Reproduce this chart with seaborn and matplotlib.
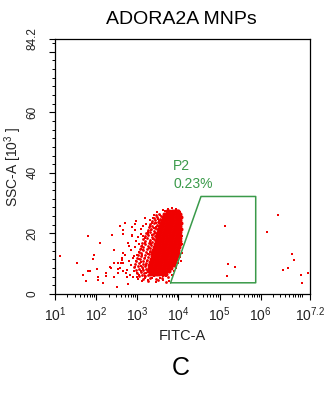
import numpy as np
import matplotlib
matplotlib.use("Agg")
import matplotlib.pyplot as plt
import seaborn as sns
from matplotlib.ticker import FixedLocator, FixedFormatter, NullFormatter

# ---------------- text ----------------
title = "ADORA2A MNPs"
panel_letter = "C"
x_label = "FITC-A"
y_label = r"SSC-A [$\mathregular{10^3}$ ]"
gate_name = "P2"
gate_pct = "0.23%"

# ---------------- axes ----------------
x_tick_exps = [1, 2, 3, 4, 5, 6, 7.2]
x_tick_labels = [r"$\mathregular{10^{1}}$", r"$\mathregular{10^{2}}$", r"$\mathregular{10^{3}}$",
                 r"$\mathregular{10^{4}}$", r"$\mathregular{10^{5}}$", r"$\mathregular{10^{6}}$",
                 r"$\mathregular{10^{7.2}}$"]
y_ticks = [0, 20, 40, 60, 80, 84.2]
y_tick_labels = ["0", "20", "40", "60", "", "84.2"]

# ---------------- gate P2 (log10 FITC-A, SSC-A) ----------------
gate_logx = [3.81, 4.55, 5.88, 5.88, 3.81]
gate_y = [3.7, 32.2, 32.2, 3.7, 3.7]

# ---------------- events: dense core (log10 FITC-A, SSC-A) ----------------
core_logx = [
    3.72, 3.78, 3.84, 3.90, 3.96, 4.00,
    3.66, 3.71, 3.77, 3.82, 3.88, 3.93, 3.99, 4.04,
    3.63, 3.69, 3.74, 3.80, 3.85, 3.91, 3.96, 4.02, 4.06,
    3.60, 3.66, 3.71, 3.77, 3.82, 3.88, 3.93, 3.99, 4.04,
    3.58, 3.63, 3.69, 3.74, 3.80, 3.85, 3.91, 3.96, 4.02, 4.06,
    3.56, 3.61, 3.67, 3.72, 3.78, 3.83, 3.89, 3.94, 4.00, 4.05,
    3.53, 3.58, 3.64, 3.69, 3.75, 3.80, 3.86, 3.91, 3.97, 4.02, 4.06,
    3.51, 3.56, 3.62, 3.67, 3.73, 3.78, 3.84, 3.89, 3.95, 4.00, 4.05,
    3.49, 3.54, 3.60, 3.65, 3.71, 3.76, 3.82, 3.87, 3.93, 3.98, 4.04,
    3.47, 3.52, 3.58, 3.63, 3.69, 3.74, 3.80, 3.85, 3.91, 3.96, 4.02, 4.05,
    3.45, 3.50, 3.56, 3.61, 3.67, 3.72, 3.78, 3.83, 3.89, 3.94, 4.00, 4.04,
    3.43, 3.48, 3.54, 3.59, 3.65, 3.70, 3.76, 3.81, 3.87, 3.92, 3.98, 4.03,
    3.41, 3.46, 3.52, 3.57, 3.63, 3.68, 3.74, 3.79, 3.85, 3.90, 3.96, 4.02,
    3.39, 3.44, 3.50, 3.55, 3.61, 3.66, 3.72, 3.77, 3.83, 3.88, 3.94, 4.00,
    3.37, 3.42, 3.48, 3.53, 3.59, 3.64, 3.70, 3.75, 3.81, 3.86, 3.92, 3.98,
    3.35, 3.40, 3.46, 3.51, 3.57, 3.62, 3.68, 3.73, 3.79, 3.84, 3.90, 3.96, 4.00,
    3.33, 3.38, 3.44, 3.49, 3.55, 3.60, 3.66, 3.71, 3.77, 3.82, 3.88, 3.94,
    3.31, 3.36, 3.42, 3.47, 3.53, 3.58, 3.64, 3.69, 3.75, 3.80, 3.86, 3.92,
    3.29, 3.34, 3.40, 3.45, 3.51, 3.56, 3.62, 3.67, 3.73, 3.78, 3.84, 3.89,
    3.28, 3.33, 3.39, 3.44, 3.50, 3.55, 3.61, 3.66, 3.72, 3.77, 3.83,
    3.27, 3.32, 3.38, 3.43, 3.49, 3.54, 3.60, 3.65, 3.71, 3.76,
    3.30, 3.36, 3.42, 3.48, 3.54, 3.60, 3.66, 3.70,
]
core_y = ([27.5] * 6 + [26.5] * 8 + [25.5] * 9 + [24.5] * 9 + [23.5] * 10 + [22.5] * 10
          + [21.5] * 11 + [20.5] * 11 + [19.5] * 11 + [18.5] * 12 + [17.5] * 12 + [16.5] * 12
          + [15.5] * 12 + [14.5] * 12 + [13.5] * 12 + [12.5] * 13 + [11.5] * 12 + [10.5] * 12
          + [9.5] * 12 + [8.5] * 11 + [7.5] * 10 + [6.5] * 8)

# ---------------- events: medium-density band left of the core ----------------
mid_logx = [3.45, 3.52, 3.58,
            3.40, 3.48, 3.55,
            3.36, 3.44, 3.50, 3.56,
            3.32, 3.40, 3.47, 3.53,
            3.28, 3.37, 3.44, 3.50,
            3.25, 3.33, 3.41, 3.48,
            3.22, 3.30, 3.38, 3.45,
            3.18, 3.27, 3.35, 3.43,
            3.15, 3.24, 3.32, 3.40,
            3.12, 3.20, 3.29, 3.37,
            3.10, 3.18, 3.26, 3.34,
            3.07, 3.15, 3.24, 3.32,
            3.04, 3.13, 3.21, 3.30,
            3.02, 3.10, 3.19, 3.28,
            2.99, 3.08, 3.17, 3.26,
            2.97, 3.06, 3.15, 3.24,
            2.95, 3.04, 3.13, 3.22,
            2.93, 3.02, 3.11, 3.20,
            2.96, 3.05, 3.14, 3.22,
            3.00, 3.08, 3.17,
            3.05, 3.12, 3.20, 3.26,
            3.15, 3.30, 3.45, 3.60, 3.75,
            3.25, 3.50, 3.70]
mid_y = [26.0, 26.4, 25.9,
         25.0, 25.4, 24.9,
         24.0, 24.4, 23.9, 24.3,
         23.0, 23.4, 22.9, 23.3,
         22.0, 22.4, 21.9, 22.3,
         21.0, 21.4, 20.9, 21.3,
         20.0, 20.4, 19.9, 20.3,
         19.0, 19.4, 18.9, 19.3,
         18.0, 18.4, 17.9, 18.3,
         17.0, 17.4, 16.9, 17.3,
         16.0, 16.4, 15.9, 16.3,
         15.0, 15.4, 14.9, 15.3,
         14.0, 14.4, 13.9, 14.3,
         13.0, 13.4, 12.9, 13.3,
         12.0, 12.4, 11.9, 12.3,
         11.0, 11.4, 10.9, 11.3,
         10.0, 10.4, 9.9, 10.3,
         9.0, 9.4, 8.9, 9.3,
         8.0, 8.4, 7.9, 8.3,
         7.0, 7.4, 6.9,
         6.0, 6.4, 5.9, 6.3,
         5.0, 5.4, 4.9, 5.3, 5.6,
         4.2, 4.5, 4.1]

# ---------------- events: halo around the core ----------------
halo_logx = [3.20, 3.15, 3.22, 3.10, 3.18, 3.25, 3.05, 3.28, 3.12, 3.32, 3.20, 3.36, 3.25, 3.40,
             3.30, 3.45, 3.50, 3.38, 3.55, 3.62, 3.00, 2.95, 3.05, 2.92, 3.08, 2.98, 3.15, 3.10,
             3.22, 2.90, 3.02, 3.12, 3.25, 3.35, 3.45, 3.55, 3.62, 3.70, 3.78, 3.85, 3.90, 3.95,
             4.00, 4.07, 4.08, 4.09, 4.08, 4.10, 4.09, 4.08, 4.04, 3.95, 3.85, 3.75, 3.68, 2.85,
             2.80, 2.88, 2.95, 3.02, 2.75, 2.82, 2.70, 2.78, 3.18, 3.30, 3.40, 3.48, 3.22, 3.24,
             3.30, 3.34, 3.38, 3.42, 3.46, 3.52, 3.15, 3.28, 3.08, 3.12, 3.20, 3.26, 3.33, 3.36,
             2.98, 3.05, 3.18, 3.40, 3.50, 3.62, 2.85, 2.90, 2.95, 3.00, 3.05, 2.88, 2.92, 3.00,
             3.10, 2.80, 3.08, 3.14, 2.98]
halo_y = [6.0, 8.2, 9.5, 10.5, 12.0, 13.2, 13.8, 15.2, 16.0, 17.3, 18.4, 19.5, 20.6, 21.8,
          22.6, 23.4, 24.8, 25.0, 26.2, 27.8, 7.0, 9.0, 11.5, 12.5, 15.0, 17.5, 19.0, 21.5,
          23.0, 5.5, 4.8, 4.2, 4.5, 5.2, 4.0, 5.3, 4.6, 5.8, 4.3, 6.2, 7.5, 8.5,
          10.2, 11.0, 13.5, 16.5, 19.0, 21.0, 23.5, 25.5, 27.2, 28.0, 28.3, 28.1, 27.4, 14.5,
          11.0, 19.5, 21.0, 18.8, 8.0, 6.3, 13.0, 17.0, 25.0, 24.5, 26.0, 27.0, 7.0, 11.0,
          14.0, 16.4, 18.0, 20.0, 22.2, 24.0, 14.5, 8.3, 9.3, 12.8, 16.8, 19.8, 21.2, 23.6,
          10.8, 6.2, 5.2, 6.0, 6.3, 6.0, 9.5, 12.0, 15.5, 13.0, 16.5, 22.0, 7.5, 5.5,
          7.5, 15.8, 19.8, 22.5, 24.0]

# ---------------- events: sparse outliers ----------------
out_logx = [1.12, 1.53, 1.81, 1.69, 1.75, 1.81, 1.84, 1.96, 1.93, 2.10, 2.01, 2.05, 2.05,
            2.38, 2.34, 2.17, 2.50, 2.44, 2.58, 2.66, 2.70, 2.74, 2.78, 2.95, 2.86, 2.58,
            2.62, 2.66, 2.23, 2.23, 2.36, 2.44, 2.44, 2.54, 2.60, 2.66, 2.54, 2.66, 2.62,
            2.54, 2.66, 2.72,
            4.04, 5.13, 5.21, 5.38, 5.17, 6.15, 6.43, 6.55, 6.67, 6.77, 6.81, 6.98, 7.01, 7.16]
out_y = [12.4, 10.2, 19.0, 6.3, 4.4, 7.7, 7.7, 12.9, 11.5, 16.9, 8.2, 5.5, 4.6,
         19.5, 9.0, 3.5, 2.4, 14.6, 22.3, 21.2, 23.4, 5.7, 3.3, 23.2, 19.0, 8.5,
         11.3, 19.8, 6.8, 5.9, 8.7, 10.2, 5.5, 10.2, 10.2, 10.2, 8.2, 13.5, 11.8,
         6.8, 7.5, 7.0,
         12.2, 22.5, 9.9, 9.0, 6.1, 20.6, 26.2, 7.9, 8.5, 13.1, 11.3, 6.3, 3.5, 6.9]

# ---------------- style ----------------
sns.set_style("ticks")
plt.rcParams["font.family"] = ["Liberation Sans", "DejaVu Sans"]
plt.rcParams["mathtext.fontset"] = "custom"
plt.rcParams["mathtext.rm"] = "Liberation Sans"
plt.rcParams["mathtext.it"] = "Liberation Sans:italic"
plt.rcParams["mathtext.bf"] = "Liberation Sans:bold"

RED = "#f00000"
GREEN = "#3a9a4a"
TXT = "#222222"

W, H = 327, 400
fig = plt.figure(figsize=(W / 100, H / 100), dpi=100)
ax = fig.add_axes([55 / W, 1 - 294 / H, 255 / W, 255 / H])

sns.scatterplot(x=10 ** np.array(halo_logx), y=halo_y, ax=ax, color=RED, marker="s",
                s=2.2, linewidth=0, legend=False)
sns.scatterplot(x=10 ** np.array(out_logx), y=out_y, ax=ax, color=RED, marker="s",
                s=2.2, linewidth=0, legend=False)
sns.scatterplot(x=10 ** np.array(mid_logx), y=mid_y, ax=ax, color=RED, marker="o",
                s=4.0, linewidth=0, legend=False)
sns.scatterplot(x=10 ** np.array(core_logx), y=core_y, ax=ax, color=RED, marker="o",
                s=8.5, linewidth=0, legend=False)

ax.plot(10 ** np.array(gate_logx), gate_y, color=GREEN, lw=1.1)
ax.text(10 ** 3.876, 42.1, gate_name, color=GREEN, fontsize=10, ha="left", va="center")
ax.text(10 ** 3.876, 36.4, gate_pct, color=GREEN, fontsize=10, ha="left", va="center")

ax.set_xscale("log")
ax.set_xlim(10 ** 1, 10 ** 7.2)
ax.set_ylim(0, 84.2)

ax.xaxis.set_major_locator(FixedLocator(10 ** np.array(x_tick_exps)))
ax.xaxis.set_major_formatter(FixedFormatter(x_tick_labels))
x_minor = [m * 10 ** d for d in range(1, 7) for m in range(2, 10)] + [10 ** 7]
ax.xaxis.set_minor_locator(FixedLocator(x_minor))
ax.xaxis.set_minor_formatter(NullFormatter())

ax.yaxis.set_major_locator(FixedLocator(y_ticks))
ax.yaxis.set_major_formatter(FixedFormatter(y_tick_labels))
y_minor = [v for v in np.arange(0, 84.2, 20 / 7) if min(abs(v - t) for t in y_ticks) > 0.5]
ax.yaxis.set_minor_locator(FixedLocator(y_minor))

ax.tick_params(axis="both", which="major", length=4, width=0.8, color="black", labelcolor=TXT)
ax.tick_params(axis="both", which="minor", length=2.3, width=0.7, color="black")
ax.tick_params(axis="x", which="major", labelsize=10, pad=4)
ax.tick_params(axis="y", which="major", labelsize=8.5, pad=8, labelrotation=90)
for lbl in ax.get_yticklabels():
    lbl.set_va("center")

for sp in ax.spines.values():
    sp.set_visible(True)
    sp.set_color("black")
    sp.set_linewidth(0.9)

ax.set_xlabel(x_label, fontsize=10.5, color=TXT)
ax.xaxis.set_label_coords(0.5, -(336 - 294) / 255)
ax.xaxis.label.set_va("center")
ax.set_ylabel(y_label, fontsize=10, color=TXT)
ax.yaxis.set_label_coords(-(55 - 13) / 255, 0.5)
ax.yaxis.label.set_va("center")

fig.text(181 / W, 1 - 20 / H, title, ha="center", va="center", fontsize=14, color="black")
fig.text(181 / W, 1 - 368 / H, panel_letter, ha="center", va="center", fontsize=18, color="black")

fig.savefig("out.png", dpi=100, facecolor="white")
